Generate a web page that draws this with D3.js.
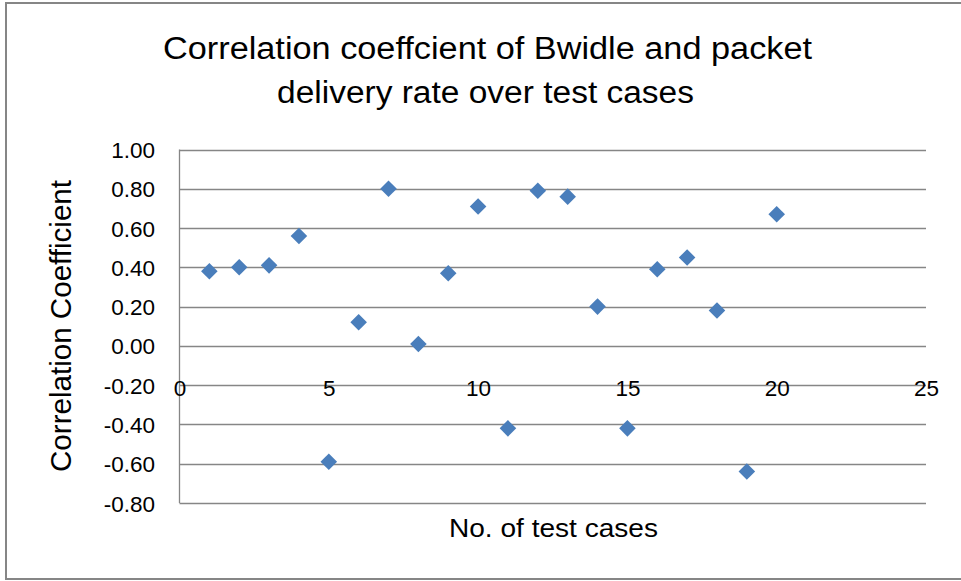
<!DOCTYPE html>
<meta charset="utf-8">
<style>
    body {
        margin: 0;
        background: #fff;
    }
    svg text {
        font-family: "Liberation Sans", Arial, sans-serif;
        fill: #000;
    }
</style>
<body>
<script src="https://cdn.jsdelivr.net/npm/d3@7"></script>
<script>

// test case numbers and their correlation coefficients
var testCases = [1, 2, 3, 4, 5, 6, 7, 8, 9, 10, 11, 12, 13, 14, 15, 16, 17, 18, 19, 20];
var coeffs = [0.38, 0.40, 0.41, 0.56, -0.59, 0.12, 0.80, 0.01, 0.37, 0.71,
              -0.42, 0.79, 0.76, 0.20, -0.42, 0.39, 0.45, 0.18, -0.64, 0.67];
var xTicks = [0, 5, 10, 15, 20, 25];
var yTicks = [-0.8, -0.6, -0.4, -0.2, 0, 0.2, 0.4, 0.6, 0.8, 1.0];
var titleLines = ["Correlation coeffcient of Bwidle and packet", "delivery rate over test cases"];

var width = 961, height = 581;
var gridColor = "#868686";

var svg = d3.select("body").append("svg")
    .attr("width", width)
    .attr("height", height);

// chart area border (right side runs off the picture)
svg.append("rect")
    .attr("x", 6)
    .attr("y", 3)
    .attr("width", 1000)
    .attr("height", 576)
    .style("fill", "#fff")
    .style("stroke", gridColor)
    .style("stroke-width", 2);

var x = d3.scaleLinear()
    .domain([0, 25])
    .range([179.5, 926]);

var y = d3.scaleLinear()
    .domain([-0.8, 1.0])
    .range([503, 149.5]);

// horizontal gridlines
svg.append("g")
    .selectAll("line")
    .data(yTicks)
  .enter().append("line")
    .attr("x1", x(0))
    .attr("x2", x(25))
    .attr("y1", function(d) { return Math.round(y(d)) + 0.5; })
    .attr("y2", function(d) { return Math.round(y(d)) + 0.5; })
    .style("stroke", gridColor)
    .style("stroke-width", 1.3);

// vertical axis line
svg.append("line")
    .attr("x1", x(0))
    .attr("x2", x(0))
    .attr("y1", y(1.0))
    .attr("y2", y(-0.8))
    .style("stroke", gridColor)
    .style("stroke-width", 1.3);

// y tick labels (plain hyphen for negatives, like the original)
var fmt = d3.format(".2f");
var yAxis = d3.axisLeft(y)
    .tickValues(yTicks)
    .tickSize(0)
    .tickPadding(0)
    .tickFormat(function(d) { return fmt(d).replace("\u2212", "-"); });

var gy = svg.append("g")
    .attr("transform", "translate(155,0)")
    .call(yAxis);
gy.select(".domain").remove();
gy.selectAll("text")
    .style("font-family", "'Liberation Sans', Arial, sans-serif")
    .style("font-size", "22.5px")
    .attr("dy", "0.36em");

// x tick labels, hung below the zero line
var xAxis = d3.axisBottom(x)
    .tickValues(xTicks)
    .tickSize(0)
    .tickPadding(0)
    .tickFormat(d3.format("d"));

var gx = svg.append("g")
    .attr("transform", "translate(0," + y(0) + ")")
    .call(xAxis);
gx.select(".domain").remove();
gx.selectAll("text")
    .style("font-family", "'Liberation Sans', Arial, sans-serif")
    .style("font-size", "22.5px")
    .attr("y", 50)
    .attr("dy", 0);

// points
var diamond = d3.symbol().type(d3.symbolDiamond2).size(175);

svg.append("g")
    .selectAll("path")
    .data(testCases)
  .enter().append("path")
    .attr("d", diamond)
    .attr("transform", function(d, i) { return "translate(" + x(d) + "," + y(coeffs[i]) + ")"; })
    .style("fill", "#4a7ebb");

// titles
svg.append("text")
    .attr("x", 487.5)
    .attr("y", 59)
    .attr("text-anchor", "middle")
    .attr("textLength", 649)
    .attr("lengthAdjust", "spacingAndGlyphs")
    .style("font-size", "31px")
    .text(titleLines[0]);

svg.append("text")
    .attr("x", 485.5)
    .attr("y", 103)
    .attr("text-anchor", "middle")
    .attr("textLength", 417)
    .attr("lengthAdjust", "spacingAndGlyphs")
    .style("font-size", "31px")
    .text(titleLines[1]);

svg.append("text")
    .attr("x", 553.5)
    .attr("y", 537)
    .attr("text-anchor", "middle")
    .attr("textLength", 209)
    .attr("lengthAdjust", "spacingAndGlyphs")
    .style("font-size", "26px")
    .text("No. of test cases");

svg.append("text")
    .attr("transform", "translate(71,326) rotate(-90)")
    .attr("text-anchor", "middle")
    .attr("textLength", 292)
    .attr("lengthAdjust", "spacingAndGlyphs")
    .style("font-size", "29px")
    .text("Correlation Coefficient");

</script>
</body>
